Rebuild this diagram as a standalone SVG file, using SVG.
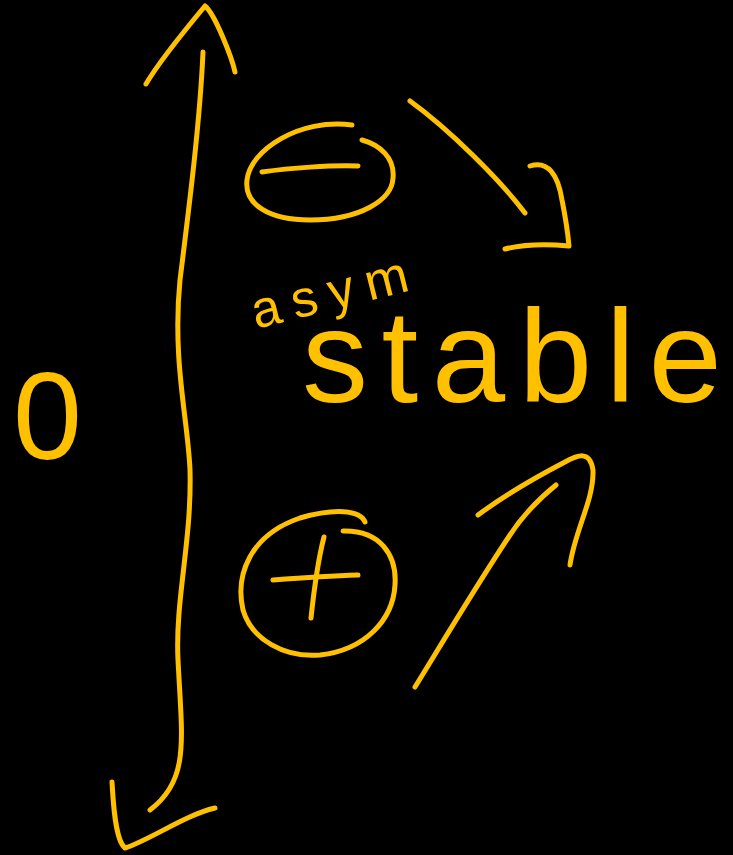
<svg xmlns="http://www.w3.org/2000/svg" width="733" height="855" viewBox="0 0 733 855">
<style>
.s{fill:none;stroke:#FFC000;stroke-width:5;stroke-linecap:round;stroke-linejoin:round}
.t{fill:#FFC000;font-family:"Liberation Sans","DejaVu Sans",sans-serif}
</style>
<rect width="733" height="855" fill="#000"/>
<g id="axis">
<path class="s" d="M203,52 C200,120 190,200 180,280 C172,360 188,420 190,470 C192,540 175,600 178,660 C182,740 190,780 150,810"/>
<path class="s" d="M146,84 C160,60 185,30 205,6 C215,14 232,58 235,72"/>
<path class="s" d="M112,782 C113,800 115,840 125,848 C150,840 185,815 215,808"/>
</g>
<g id="zero"><text class="t" x="13" y="459" font-size="124">0</text></g>
<g id="minus">
<path class="s" d="M352,125 C300,118 250,150 247,180 C244,205 270,220 310,220 C360,220 392,200 393,178 C395,158 380,145 362,140"/>
<path class="s" d="M262,172 C290,168 330,165 358,166"/>
</g>
<g id="plus">
<path class="s" d="M365,522 C360,510 335,508 300,518 C250,535 235,575 243,610 C252,640 285,658 320,655 C365,650 393,620 395,585 C397,555 380,530 343,531"/>
<path class="s" d="M273,580 C300,578 330,576 358,575"/>
<path class="s" d="M324,537 C318,560 314,590 311,618"/>
</g>
<g id="label-asym"><text class="t" x="256" y="329" font-size="52" textLength="160" lengthAdjust="spacing" transform="rotate(-14 256 329)">asym</text></g>
<g id="label-stable"><text class="t" x="302" y="402" font-size="132" textLength="420" lengthAdjust="spacing">stable</text></g>
<g id="connectors">
<path class="s" d="M410,101 C450,130 500,180 525,213"/>
<path class="s" d="M530,166 C548,160 558,175 562,200 C566,220 568,235 569,246 C548,244 525,244 505,249"/>
<path class="s" d="M415,687 C450,630 480,580 510,535 C525,512 540,498 556,485"/>
<path class="s" d="M478,515 C505,495 540,475 565,462 C578,455 590,450 593,470 C594,500 575,530 570,565"/>
</g>
</svg>
